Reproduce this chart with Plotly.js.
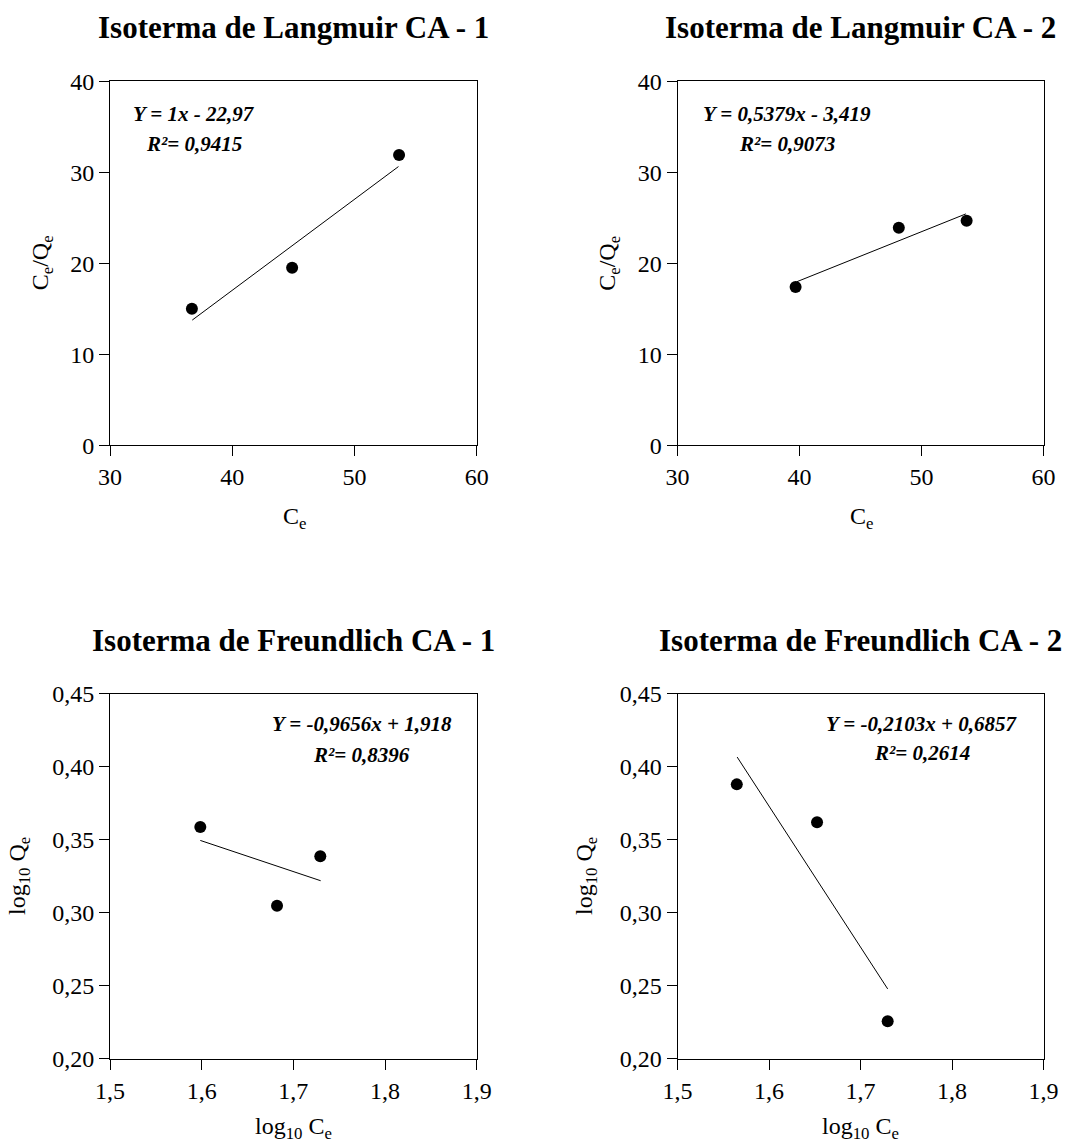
<!DOCTYPE html>
<html>
<head>
<meta charset="utf-8">
<script src="https://cdn.plot.ly/plotly-3.0.1.min.js"></script>
<style>
html, body { margin: 0; padding: 0; background: #ffffff; }
#chart { width: 1066px; height: 1142px; }
</style>
</head>
<body>
<div id="chart"></div>
<script>
// ---------- DATA ----------
// Isoterma de Langmuir CA - 1
const langmuir1Ce   = [36.7, 44.9, 53.65];
const langmuir1CeQe = [15.0, 19.5, 31.9];
const langmuir1FitX = [36.73, 53.6];
const langmuir1FitY = [13.76, 30.63];

// Isoterma de Langmuir CA - 2
const langmuir2Ce   = [39.68, 48.14, 53.7];
const langmuir2CeQe = [17.4, 23.9, 24.67];
const langmuir2FitX = [39.77, 53.64];
const langmuir2FitY = [17.97, 25.43];

// Isoterma de Freundlich CA - 1
const freund1LogCe = [1.5985, 1.6822, 1.7294];
const freund1LogQe = [0.3587, 0.3048, 0.3386];
const freund1FitX  = [1.5985, 1.7298];
const freund1FitY  = [0.3495, 0.3219];

// Isoterma de Freundlich CA - 2
const freund2LogCe = [1.5648, 1.6525, 1.7297];
const freund2LogQe = [0.3879, 0.3619, 0.2256];
const freund2FitX  = [1.5652, 1.7297];
const freund2FitY  = [0.4066, 0.2478];

// Titles and equation texts
const panelTitles = [
  'Isoterma de Langmuir CA - 1',
  'Isoterma de Langmuir CA - 2',
  'Isoterma de Freundlich CA - 1',
  'Isoterma de Freundlich CA - 2'
];
const equationTexts = ['Y = 1x - 22,97', 'Y = 0,5379x - 3,419', 'Y = -0,9656x + 1,918', 'Y = -0,2103x + 0,6857'];
const r2Texts = ['R\u00b2= 0,9415', 'R\u00b2= 0,9073', 'R\u00b2= 0,8396', 'R\u00b2= 0,2614'];

// Tick labels
const langmuirXTicks = [30, 40, 50, 60];
const langmuirYTicks = [0, 10, 20, 30, 40];
const freundXTickVals = [1.5, 1.6, 1.7, 1.8, 1.9];
const freundXTickText = ['1,5', '1,6', '1,7', '1,8', '1,9'];
const freundYTickVals = [0.20, 0.25, 0.30, 0.35, 0.40, 0.45];
const freundYTickText = ['0,20', '0,25', '0,30', '0,35', '0,40', '0,45'];

// ---------- LAYOUT HELPERS ----------
const W = 1066, H = 1142;
const FONT = 'Liberation Serif, Times New Roman, serif';
const px = v => v / W;
const py = v => 1 - v / H;

function axisBase(extra) {
  return Object.assign({
    showline: true, mirror: true, linecolor: '#000', linewidth: 1,
    ticks: 'outside', ticklen: 10, tickwidth: 1, tickcolor: '#000',
    showgrid: false, zeroline: false, fixedrange: true,
    tickfont: { family: FONT, size: 24, color: '#000' }
  }, extra);
}

function scatter(x, y, xa, ya) {
  return { x: x, y: y, xaxis: xa, yaxis: ya, type: 'scatter', mode: 'markers',
           marker: { color: '#000', size: 12 }, showlegend: false, hoverinfo: 'skip' };
}
function fit(x, y, xa, ya) {
  return { x: x, y: y, xaxis: xa, yaxis: ya, type: 'scatter', mode: 'lines',
           line: { color: '#000', width: 1 }, showlegend: false, hoverinfo: 'skip' };
}

const data = [
  fit(langmuir1FitX, langmuir1FitY, 'x', 'y'),
  scatter(langmuir1Ce, langmuir1CeQe, 'x', 'y'),
  fit(langmuir2FitX, langmuir2FitY, 'x2', 'y2'),
  scatter(langmuir2Ce, langmuir2CeQe, 'x2', 'y2'),
  fit(freund1FitX, freund1FitY, 'x3', 'y3'),
  scatter(freund1LogCe, freund1LogQe, 'x3', 'y3'),
  fit(freund2FitX, freund2FitY, 'x4', 'y4'),
  scatter(freund2LogCe, freund2LogQe, 'x4', 'y4')
];

const colL = [px(110), px(476.7)];
const colR = [px(677.5), px(1043.5)];
const rowT = [py(445.3), py(81.3)];
const rowB = [py(1058.7), py(693.7)];

const xL = { range: [30, 60], tickvals: langmuirXTicks };
const yL = { range: [0, 40], tickvals: langmuirYTicks };
const xF = { range: [1.5, 1.9], tickvals: freundXTickVals, ticktext: freundXTickText };
const yF = { range: [0.20, 0.45], tickvals: freundYTickVals, ticktext: freundYTickText };

function ann(text, x, y, font, extra) {
  return Object.assign({
    text: text, xref: 'paper', yref: 'paper', x: px(x), y: py(y),
    xanchor: 'center', yanchor: 'middle', showarrow: false,
    font: Object.assign({ family: FONT, color: '#000' }, font)
  }, extra || {});
}

const titleFont = { size: 31, weight: 'bold' };
const eqFont = { size: 21, weight: 'bold', style: 'italic' };
const axFont = { size: 24 };

const annotations = [];
// Panel titles
[[293.3, 27.3], [860.5, 27.3], [293.3, 640.9], [860.5, 640.9]].forEach((p, i) => {
  annotations.push(ann(panelTitles[i], p[0], p[1], titleFont));
});
// Equations
[[194, 113.6, 144.2], [787, 113.6, 144.2], [362, 724.4, 755], [921.7, 723.6, 753]].forEach((p, i) => {
  annotations.push(ann(equationTexts[i], p[0], p[1], eqFont));
  annotations.push(ann(r2Texts[i], p[0], p[2], eqFont));
});
// Axis titles
annotations.push(ann('C<sub>e</sub>', 294, 518, axFont));
annotations.push(ann('C<sub>e</sub>', 861, 518, axFont));
annotations.push(ann('log<sub>10</sub> C<sub>e</sub>', 293, 1128, axFont));
annotations.push(ann('log<sub>10</sub> C<sub>e</sub>', 860, 1128, axFont));
annotations.push(ann('C<sub>e</sub>/Q<sub>e</sub>', 42, 263.3, axFont, { textangle: -90 }));
annotations.push(ann('C<sub>e</sub>/Q<sub>e</sub>', 609.5, 263.3, axFont, { textangle: -90 }));
annotations.push(ann('log<sub>10</sub> Q<sub>e</sub>', 19, 876, axFont, { textangle: -90 }));
annotations.push(ann('log<sub>10</sub> Q<sub>e</sub>', 586, 876, axFont, { textangle: -90 }));

const layout = {
  width: W, height: H,
  margin: { l: 0, r: 0, t: 0, b: 0 },
  paper_bgcolor: '#fff', plot_bgcolor: '#fff',
  showlegend: false,
  font: { family: FONT, color: '#000' },
  xaxis:  axisBase(Object.assign({ domain: colL, anchor: 'y'  }, xL)),
  yaxis:  axisBase(Object.assign({ domain: rowT, anchor: 'x'  }, yL)),
  xaxis2: axisBase(Object.assign({ domain: colR, anchor: 'y2' }, xL)),
  yaxis2: axisBase(Object.assign({ domain: rowT, anchor: 'x2' }, yL)),
  xaxis3: axisBase(Object.assign({ domain: colL, anchor: 'y3' }, xF)),
  yaxis3: axisBase(Object.assign({ domain: rowB, anchor: 'x3' }, yF)),
  xaxis4: axisBase(Object.assign({ domain: colR, anchor: 'y4' }, xF)),
  yaxis4: axisBase(Object.assign({ domain: rowB, anchor: 'x4' }, yF)),
  annotations: annotations
};

Plotly.newPlot('chart', data, layout, { displayModeBar: false });
</script>
</body>
</html>
